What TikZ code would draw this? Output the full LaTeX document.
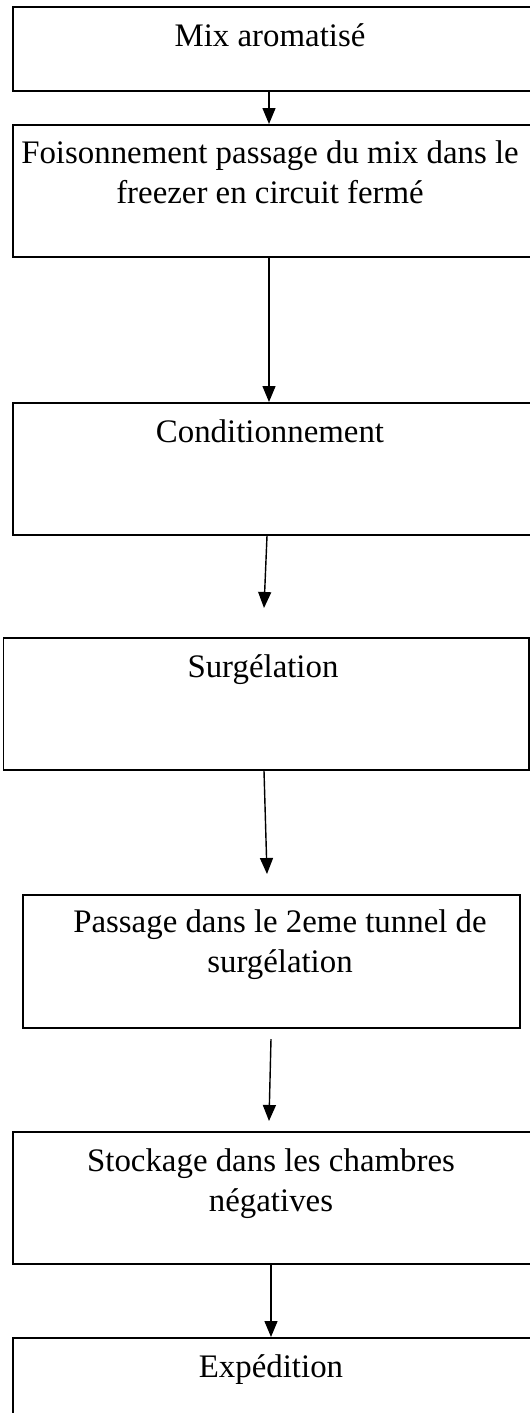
\documentclass[tikz,border=0pt]{standalone}
\usepackage{fontspec}
\setmainfont{Liberation Serif}
\usetikzlibrary{arrows.meta, positioning, calc}

\begin{document}
\begin{tikzpicture}[font=\fontsize{18.7}{22.7}\selectfont, align=center,
    etape/.style={draw, line width=1.1pt, anchor=north west, inner sep=0pt},
    texte/.style={anchor=base, inner sep=0pt},
    fleche/.style={-{Triangle[length=0.32cm, width=0.26cm]}, line width=0.8pt}]
    \useasboundingbox (0,0) rectangle (10.6,-28.26);
    \clip (0,0) rectangle (10.6,-28.26);
    % cadres
    \node[etape, minimum width=10.56cm, minimum height=1.68cm] (mix) at (0.24,-0.12) {};
    \node[etape, minimum width=10.56cm, minimum height=2.64cm] (foison) at (0.24,-2.48) {};
    \node[etape, minimum width=10.56cm, minimum height=2.64cm] (cond) at (0.24,-8.04) {};
    \node[etape, minimum width=10.51cm, minimum height=2.64cm] (surg) at (0.05,-12.74) {};
    \node[etape, minimum width=9.94cm, minimum height=2.66cm] (tunnel) at (0.44,-17.88) {};
    \node[etape, minimum width=10.56cm, minimum height=2.64cm] (stock) at (0.24,-22.62) {};
    \node[etape, minimum width=10.56cm, minimum height=2.4cm] (exped) at (0.24,-26.74) {};
    % textes (ancre sur la derniere ligne)
    \node[texte] (t-mix) at (5.4,-0.92) {Mix aromatisé};
    \node[texte] (t-foison) at (5.4,-4.06) {Foisonnement passage du mix dans le\\freezer en circuit fermé};
    \node[texte] (t-cond) at (5.4,-8.84) {Conditionnement};
    \node[texte] (t-surg) at (5.26,-13.54) {Surgélation};
    \node[texte] (t-tunnel) at (5.6,-19.44) {Passage dans le 2eme tunnel de\\surgélation};
    \node[texte] (t-stock) at (5.42,-24.22) {Stockage dans les chambres\\négatives};
    \node[texte] (t-exped) at (5.42,-27.54) {Expédition};
    % fleches
    \coordinate (axe) at (5.38,0);
    \coordinate (axe2) at (5.42,0);
    \coordinate (fin3) at (5.28,-12.16);
    \coordinate (fin4) at (5.34,-17.48);
    \coordinate (deb5) at (5.42,-20.78);
    \coordinate (fin5) at (5.38,-22.42);
    \draw[fleche] (mix.south -| axe) -- (foison.north -| axe);
    \draw[fleche] (foison.south -| axe) -- (cond.north -| axe);
    \draw[fleche] ($(cond.south -| axe)+(-0.04,0)$) -- (fin3);
    \draw[fleche] (surg.south -| fin3) -- (fin4);
    \draw[fleche] (deb5) -- (fin5);
    \draw[fleche] (stock.south -| axe2) -- (exped.north -| axe2);
\end{tikzpicture}
\end{document}
